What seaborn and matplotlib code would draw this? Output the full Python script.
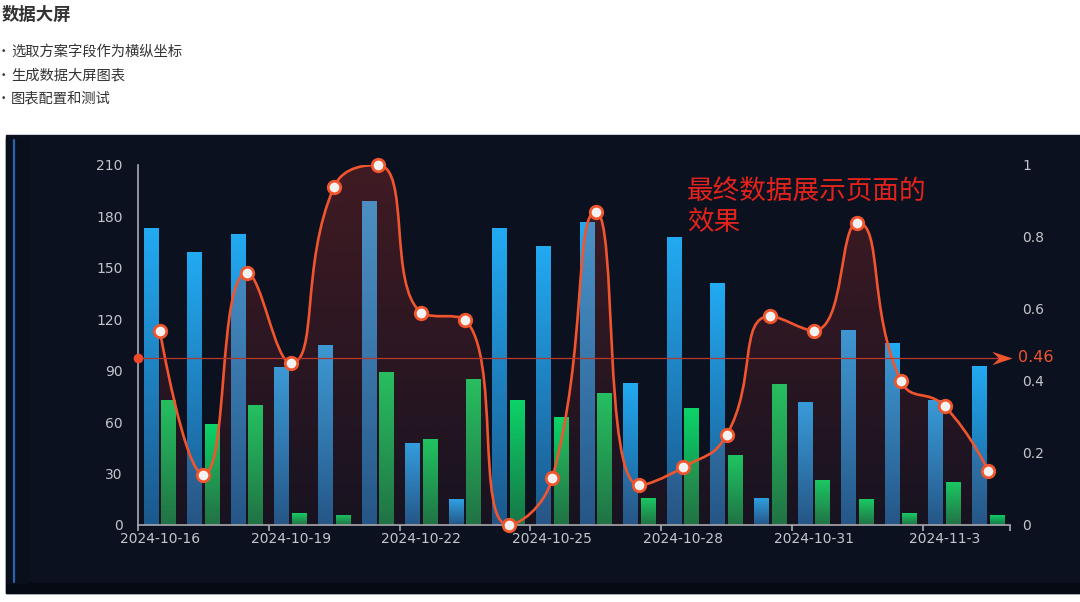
import numpy as np
import pandas as pd
import matplotlib
matplotlib.use("Agg")
import matplotlib.pyplot as plt
import seaborn as sns
from matplotlib.path import Path
from matplotlib.patches import PathPatch, Rectangle
from matplotlib.lines import Line2D

# data
dates = ['2024-10-16', '2024-10-17', '2024-10-18', '2024-10-19', '2024-10-20',
         '2024-10-21', '2024-10-22', '2024-10-23', '2024-10-24', '2024-10-25',
         '2024-10-26', '2024-10-27', '2024-10-28', '2024-10-29', '2024-10-30',
         '2024-10-31', '2024-11-1', '2024-11-2', '2024-11-3', '2024-11-4']
blue_values = [173, 159, 170, 92, 105, 189, 48, 15, 173, 163,
               177, 83, 168, 141, 16, 72, 114, 106, 73, 93]
green_values = [73, 59, 70, 7, 6, 89, 50, 85, 73, 63,
                77, 16, 68, 41, 82, 26, 15, 7, 25, 6]
rate_values = [0.54, 0.14, 0.70, 0.45, 0.94, 1.00, 0.59, 0.57, 0.00, 0.13,
               0.87, 0.11, 0.16, 0.25, 0.58, 0.54, 0.84, 0.40, 0.33, 0.15]
left_ticks = [0, 30, 60, 90, 120, 150, 180, 210]
right_ticks = [0, 0.2, 0.4, 0.6, 0.8, 1]
right_labels = ['0', '0.2', '0.4', '0.6', '0.8', '1']
title = '数据大屏'
bullets = ['选取方案字段作为横纵坐标', '生成数据大屏图表', '图表配置和测试']
note_lines = ['最终数据展示页面的', '效果']

df = pd.DataFrame({
    'date': dates * 2,
    'value': blue_values + green_values,
    'series': ['blue'] * len(dates) + ['green'] * len(dates),
})

sns.set_theme(style='white')
plt.rcParams['font.family'] = ['Noto Sans CJK SC', 'DejaVu Sans']

W, H = 1080, 602
fig = plt.figure(figsize=(W / 100, H / 100), dpi=100)
fig.patch.set_facecolor('white')

# page text above the dashboard
fig.text(2 / W, 1 - 15 / H, title, fontsize=12.5, fontweight='bold', color='#333333', va='center')
for i, b in enumerate(bullets):
    y = 1 - (52 + 23 * i) / H
    fig.text(1 / W, y, '•', fontsize=6.5, color='#333333', va='center', family='DejaVu Sans')
    fig.text(11 / W, y, b, fontsize=10.3, color='#333333', va='center')

# dark dashboard panel
fig.add_artist(Rectangle((6 / W, 9 / H), 1 - 6 / W, (593 - 135) / H,
                         transform=fig.transFigure, color='#0c1120', zorder=0))
fig.add_artist(Rectangle((6 / W, 9 / H), 1 - 6 / W, 10 / H,
                         transform=fig.transFigure, color='#060a13', zorder=0))
fig.add_artist(Rectangle((6 / W, 19 / H), 22 / W, (583 - 138) / H,
                         transform=fig.transFigure, color='#0a0f1c', zorder=0))
fig.add_artist(Line2D([14 / W, 14 / W], [20 / H, 1 - 140 / H], transform=fig.transFigure,
                      color='#2c64b0', lw=1.6, zorder=1))

ax = fig.add_axes([138 / W, 77 / H, 872 / W, 360 / H])
ax.patch.set_alpha(0)

sns.barplot(data=df, x='date', y='value', hue='series', order=dates,
            hue_order=['blue', 'green'], palette=['#1fa6f0', '#10cf66'],
            width=0.8, gap=0.15, saturation=1, legend=False, ax=ax)

# per-bar vertical gradients
grad_blue = np.array([[27, 88, 140], [34, 170, 242]]) / 255
grad_green = np.array([[22, 118, 70], [12, 212, 104]]) / 255
t = np.linspace(0, 1, 128)[:, None]
for p in list(ax.patches):
    h = p.get_height()
    if h <= 0:
        continue
    fc = p.get_facecolor()
    g = grad_blue if fc[2] > fc[1] else grad_green
    img = (g[0] * (1 - t) + g[1] * t)[:, None, :]
    x0 = p.get_x()
    im = ax.imshow(img, extent=(x0, x0 + p.get_width(), 0, h), origin='lower',
                   aspect='auto', zorder=2, interpolation='bilinear')
    im.set_clip_path(p)
    p.set_facecolor('none')
    p.set_edgecolor('none')

ax.set_xlim(-0.5, len(dates) - 0.5)
ax.set_ylim(0, 210)
ax.set_yticks(left_ticks)
ax.set_xticks(range(0, len(dates), 3))
ax.set_xticklabels(dates[::3])
ax.set_xticks([-0.5 + 3 * k for k in range(7)] + [len(dates) - 0.5], minor=True)
ax.set_xlabel('')
ax.set_ylabel('')
for s in ['top', 'right']:
    ax.spines[s].set_visible(False)
for s in ['left', 'bottom']:
    ax.spines[s].set_color('#a8abb2')
    ax.spines[s].set_linewidth(1.2)
ax.tick_params(axis='y', length=0, pad=11, labelsize=10, labelcolor='#c4c6cc')
ax.tick_params(axis='x', which='major', length=0, pad=5, labelsize=10, labelcolor='#c4c6cc')
ax.tick_params(axis='x', which='minor', length=4, width=1.2, color='#a8abb2', bottom=True)
for lab in ax.get_xticklabels() + ax.get_yticklabels():
    lab.set_family('DejaVu Sans')

# secondary axis: smooth line with area
ax2 = ax.twinx()
ax2.set_xlim(ax.get_xlim())
ax2.set_ylim(0, 1)
ax2.set_yticks(right_ticks)
ax2.set_yticklabels(right_labels)
for s in ax2.spines.values():
    s.set_visible(False)
ax2.tick_params(axis='y', length=0, pad=9, labelsize=10, labelcolor='#c4c6cc')
for lab in ax2.get_yticklabels():
    lab.set_family('DejaVu Sans')
ax2.grid(False)

# echarts-style smoothing (control points, constrained between neighbours)
xs = np.arange(len(rate_values), dtype=float)
sx, sy = 872 / len(dates), 360.0
px = xs * sx
py = np.array(rate_values) * sy
smooth = 0.5
verts = [(px[0], py[0])]
codes = [Path.MOVETO]
cx0, cy0 = px[0], py[0]
n = len(px)
for i in range(1, n):
    x, y = px[i], py[i]
    x_p, y_p = px[i - 1], py[i - 1]
    if i == n - 1:
        ncx0, ncy0 = x, y
        ncx1, ncy1 = x, y
    else:
        x_n, y_n = px[i + 1], py[i + 1]
        vx, vy = x_n - x_p, y_n - y_p
        l0 = np.hypot(x - x_p, y - y_p)
        l1 = np.hypot(x_n - x, y_n - y)
        ratio = l1 / (l0 + l1)
        ncx1 = x + vx * smooth * ratio
        ncy1 = y + vy * smooth * ratio
        ncx1 = min(max(ncx1, min(x_n, x)), max(x_n, x))
        ncy1 = min(max(ncy1, min(y_n, y)), max(y_n, y))
        vx, vy = ncx1 - x, ncy1 - y
        ncx0 = x - vx * l0 / l1
        ncy0 = y - vy * l0 / l1
        ncx0 = min(max(ncx0, min(x_p, x)), max(x_p, x))
        ncy0 = min(max(ncy0, min(y_p, y)), max(y_p, y))
        vx, vy = x - ncx0, y - ncy0
        ncx1 = x + vx * l1 / l0
        ncy1 = y + vy * l1 / l0
    verts += [(cx0, cy0), (ncx0, ncy0), (x, y)]
    codes += [Path.CURVE4] * 3
    cx0, cy0 = ncx1, ncy1
verts = [(a / sx, b / sy) for a, b in verts]

line_path = Path(verts, codes)
area_path = Path(verts + [(xs[-1], 0), (xs[0], 0), (xs[0], 0)],
                 codes + [Path.LINETO, Path.LINETO, Path.CLOSEPOLY])

area_patch = PathPatch(area_path, facecolor='none', edgecolor='none', transform=ax2.transData)
ax2.add_patch(area_patch)
ta = np.linspace(0, 1, 256)[:, None]
area_img = np.zeros((256, 1, 4))
area_img[..., 0] = 215 / 255
area_img[..., 1] = 55 / 255
area_img[..., 2] = 45 / 255
area_img[..., 3] = (0.06 + 0.2 * ta)
aim = ax2.imshow(area_img, extent=(xs[0], xs[-1], 0, max(rate_values)), origin='lower',
                 aspect='auto', zorder=2, interpolation='bilinear')
aim.set_clip_path(area_patch)

ax2.add_patch(PathPatch(line_path, facecolor='none', edgecolor='#f0552e', lw=1.9, zorder=3))

# average mark line
avg = float(np.mean(rate_values))
x_end = len(dates) - 0.5
ax2.plot([-0.5, x_end], [avg, avg], color='#b5392a', lw=0.9, zorder=3, clip_on=False)
ax2.plot([-0.5], [avg], marker='o', ms=7, color='#f0482a', mec='none', zorder=4, clip_on=False)
arrow = Path([(0, 0), (-2.4, 0.8), (-1.6, 0), (-2.4, -0.8), (0, 0)],
             [Path.MOVETO, Path.LINETO, Path.LINETO, Path.LINETO, Path.CLOSEPOLY])
ax2.plot([x_end + 0.05], [avg], marker=arrow, ms=29, color='#f0552e', mec='none',
         zorder=4, clip_on=False)
ax2.annotate(f'{avg:.2f}', xy=(x_end, avg), xytext=(6, 0), textcoords='offset points',
             color='#f0552e', fontsize=11.5, va='center', ha='left', annotation_clip=False,
             family='DejaVu Sans')

# data point markers
ax2.plot(xs, rate_values, ls='none', marker='o', ms=9, mfc='#f2f2f2', mec='#f0552e',
         mew=2.0, zorder=5, clip_on=False)

for k, line in enumerate(note_lines):
    fig.text(687 / W, 1 - (191 + 32 * k) / H, line, fontsize=19.2, color='#e2231c',
             va='center', ha='left')

fig.savefig('out.png', dpi=100, facecolor=fig.get_facecolor())
